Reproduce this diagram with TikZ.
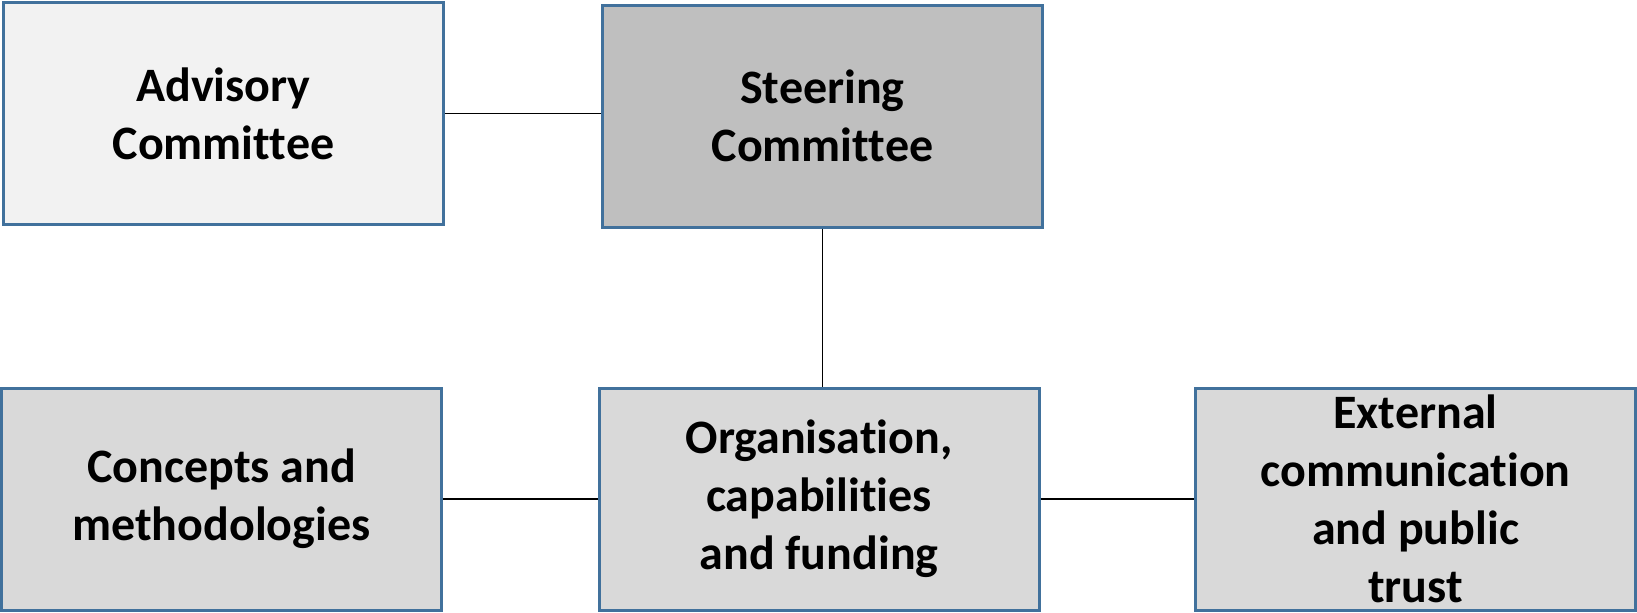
\documentclass[tikz,border=0pt]{standalone}
\usepackage{fontspec}
\setmainfont[Ligatures=NoCommon]{Carlito}
\usetikzlibrary{positioning}
\definecolor{boxline}{HTML}{41719C}
\definecolor{lightfill}{HTML}{F2F2F2}
\definecolor{darkfill}{HTML}{BFBFBF}
\definecolor{midfill}{HTML}{D9D9D9}
\tikzset{
    every node/.style={
        font=\fontsize{24}{29}\selectfont\bfseries,
        align=center},
    unit/.style={
        draw=boxline,
        line width=1.5pt,
        fill=midfill,
        inner sep=0pt,
        minimum width=220pt,
        minimum height=111pt},
    link/.style={
        draw,
        line width=0.75pt}}
\begin{document}
\begin{tikzpicture}[x=0.5pt,y=-0.5pt]
        \useasboundingbox (0,0) rectangle (1637,612);
        \node[unit,fill=lightfill] (adv) at (223.5,113.5) {Advisory\\Committee};
        \node[unit,fill=darkfill] (steer) at (822.5,116) {Steering\\Committee};
        \node[unit] (concepts) at (221.5,499) {Concepts and\\methodologies};
        \node[unit] (org) at (819,499) {Organisation,\\capabilities\\and funding};
        \node[unit] (ext) at (1415.5,499) {External\\communication\\and public\\trust};

        \draw[link] (adv.east) -- (adv.east -| steer.west);
        \draw[link] (steer.south) -- (steer.south |- org.north);
        \draw[link] (concepts) -- (org);
        \draw[link] (org) -- (ext);
    \end{tikzpicture}
\end{document}
